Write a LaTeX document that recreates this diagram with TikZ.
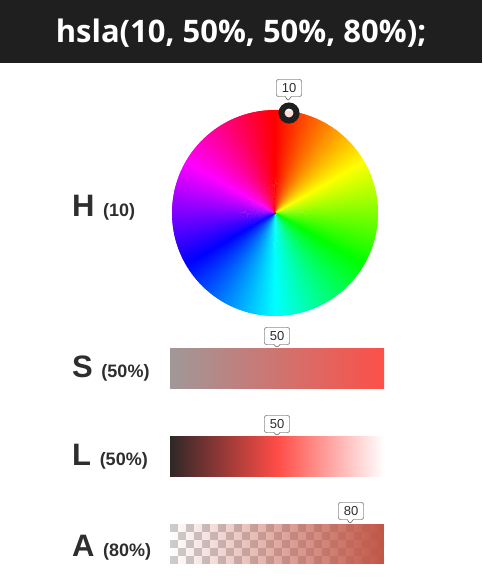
\documentclass[tikz,border=0pt]{standalone}
\usepackage{fontspec}
\setmainfont{Liberation Sans}
\newfontfamily\titlefont{Open Sans}
\usepackage{xcolor}
\usetikzlibrary{shapes.callouts, fadings}
\definecolor{titlebg}{HTML}{1F1F1F}
\definecolor{ink}{HTML}{2E2E2E}
\definecolor{satgray}{RGB}{160,152,152}
\definecolor{satred}{RGB}{252,80,72}
\definecolor{lightdark}{RGB}{46,40,40}
\definecolor{lightred}{RGB}{255,76,70}
\definecolor{alphared}{RGB}{192,86,70}
\definecolor{checkgray}{HTML}{CDCDCD}

\begin{document}
\begin{tikzpicture}[x=1pt, y=-1pt,
    chan/.style={text=ink, font=\bfseries\fontsize{31}{36}\selectfont, anchor=base west, inner sep=0},
    tipbox/.style={rectangle callout, draw=ink, fill=white, rounded corners=2pt, text=ink,
        font=\fontsize{13}{15}\selectfont, inner xsep=2pt, inner ysep=1pt, minimum width=25pt,
        minimum height=17pt, callout pointer width=6pt},
    bar/.style={minimum width=214pt, minimum height=40pt, inner sep=0}]
    \useasboundingbox (0,0) rectangle (482,588);

    % title
    \fill[titlebg] (0,0) rectangle (482,63);
    \node[text=white, font=\titlefont\bfseries\fontsize{31}{36}\selectfont] (title) at (241,33) {hsla(10, 50\%, 50\%, 80\%);};

    % hue wheel
    \coordinate (wheel) at (275,213);
    \begin{scope}[shift={(wheel)}]
        \clip (0,0) circle[radius=103];
        \foreach \h in {0,...,359} {
            \definecolor{huecol}{Hsb}{\h,1,1}
            \fill[huecol] (0,0) -- (\h-90.5:110) -- (\h-88.8:110) -- cycle;
        }
    \end{scope}
    \node[circle, draw=titlebg, line width=6pt, fill=white, fill opacity=0.85, draw opacity=1, minimum size=15pt, inner sep=0] (hmark) at (289,113) {};
    \node[tipbox, callout absolute pointer={(288,101)}] (htip) at (289,88) {10};

    % saturation
    \node[bar, left color=satgray, right color=satred] (sbar) at (277,368) {};
    \node[tipbox, callout absolute pointer={(sbar.north)}] (stip) at (277,336) {50};

    % lightness
    \node[bar, left color=lightdark, right color=white, middle color=lightred] (lbar) at (277,456) {};
    \node[tipbox, callout absolute pointer={(lbar.north)}] (ltip) at (277,424) {50};

    % alpha
    \node[bar] (abar) at (277,544) {};
    \begin{scope}
        \clip (abar.south west) rectangle (abar.north east);
        \foreach \i in {0,2,...,26} \foreach \j in {0,2,4}
            \fill[checkgray] ({170+8*\i},{524+8*\j}) rectangle ++(8,8);
        \foreach \i in {1,3,...,25} \foreach \j in {1,3}
            \fill[checkgray] ({170+8*\i},{524+8*\j}) rectangle ++(8,8);
    \end{scope}
    \fill[alphared, path fading=west] (abar.south west) rectangle (abar.north east);
    \node[tipbox, callout absolute pointer={(350,524)}] (atip) at (351,511) {80};

    % labels
    \node[chan] (hlab) at (72,216) {H {\fontsize{18}{20}\selectfont (10)}};
    \node[chan] (slab) at (72,377) {S {\fontsize{18}{20}\selectfont (50\%)}};
    \node[chan] (llab) at (72,465) {L {\fontsize{18}{20}\selectfont (50\%)}};
    \node[chan] (alab) at (72,556) {A {\fontsize{18}{20}\selectfont (80\%)}};
\end{tikzpicture}
\end{document}
